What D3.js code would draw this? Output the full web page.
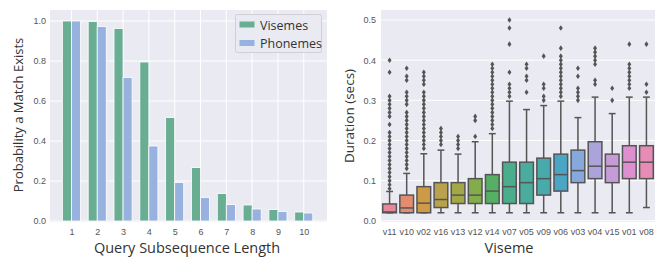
<!DOCTYPE html>
<html>
<head>
<meta charset="utf-8">
<script src="https://cdn.jsdelivr.net/npm/d3@7"></script>
<style>
  body { margin: 0; background: #fff; }
  svg { display: block; font-family: "Open Sans", sans-serif; }
</style>
</head>
<body>
<svg id="main" width="658" height="257"></svg>
<script>
// left panel: probability a match exists
var lengths = [1, 2, 3, 4, 5, 6, 7, 8, 9, 10];
var visemes = [1.0, 0.997, 0.963, 0.795, 0.517, 0.267, 0.137, 0.08, 0.057, 0.045];
var phonemes = [1.0, 0.972, 0.718, 0.375, 0.193, 0.118, 0.082, 0.06, 0.048, 0.04];
var probTicks = [0, 0.2, 0.4, 0.6, 0.8, 1.0];

// right panel: viseme durations
var visemeNames = ["v11", "v10", "v02", "v16", "v13", "v12", "v14", "v07", "v05", "v09", "v06", "v03", "v04", "v15", "v01", "v08"];
var whiskLow = [0.02, 0.02, 0.02, 0.02, 0.02, 0.02, 0.02, 0.02, 0.02, 0.02, 0.02, 0.02, 0.02, 0.02, 0.02, 0.033];
var q1 = [0.02, 0.02, 0.02, 0.033, 0.043, 0.043, 0.043, 0.043, 0.043, 0.064, 0.074, 0.095, 0.105, 0.095, 0.105, 0.105];
var median = [0.022, 0.032, 0.044, 0.053, 0.064, 0.064, 0.074, 0.085, 0.095, 0.105, 0.115, 0.125, 0.136, 0.136, 0.146, 0.146];
var q3 = [0.042, 0.064, 0.085, 0.095, 0.095, 0.105, 0.115, 0.146, 0.146, 0.156, 0.166, 0.176, 0.197, 0.166, 0.187, 0.187];
var whiskHigh = [0.073, 0.118, 0.167, 0.176, 0.166, 0.197, 0.217, 0.298, 0.277, 0.287, 0.298, 0.257, 0.308, 0.267, 0.308, 0.308];
var outliers = [
  [0.08, 0.09, 0.10, 0.11, 0.12, 0.13, 0.14, 0.15, 0.16, 0.17, 0.18, 0.19, 0.20, 0.21, 0.22, 0.24, 0.26, 0.27, 0.28, 0.29, 0.30, 0.31, 0.37, 0.40],
  [0.13, 0.14, 0.15, 0.16, 0.17, 0.18, 0.19, 0.20, 0.21, 0.22, 0.23, 0.24, 0.25, 0.26, 0.27, 0.29, 0.30, 0.31, 0.32, 0.35, 0.36, 0.38],
  [0.18, 0.19, 0.20, 0.21, 0.22, 0.23, 0.24, 0.25, 0.26, 0.27, 0.28, 0.29, 0.30, 0.31, 0.32, 0.34, 0.35, 0.36, 0.37],
  [0.19, 0.20, 0.21, 0.22, 0.23],
  [0.18, 0.19, 0.20, 0.21],
  [0.21, 0.25, 0.26],
  [0.23, 0.24, 0.25, 0.26, 0.27, 0.28, 0.29, 0.30, 0.31, 0.32, 0.33, 0.34, 0.35, 0.36, 0.37, 0.38, 0.39],
  [0.31, 0.32, 0.33, 0.34, 0.37, 0.44, 0.48, 0.50],
  [0.32, 0.35, 0.36, 0.38, 0.39],
  [0.30, 0.31, 0.33, 0.34, 0.41],
  [0.31, 0.32, 0.33, 0.34, 0.35, 0.36, 0.37, 0.38, 0.39, 0.40, 0.41, 0.43, 0.48],
  [0.30, 0.31, 0.32, 0.33, 0.36, 0.38],
  [0.34, 0.35, 0.39, 0.40, 0.41, 0.42, 0.43],
  [0.30, 0.33],
  [0.33, 0.34, 0.35, 0.36, 0.37, 0.38, 0.39, 0.44],
  [0.32, 0.34, 0.44]
];
var durTicks = [0, 0.1, 0.2, 0.3, 0.4, 0.5];

var boxColors = ["#e7889a", "#e48c6f", "#cf9a46", "#b9a24b", "#a3a745", "#82ad4a", "#55b064", "#4aae8c",
                 "#4aac9c", "#48aaab", "#4aa6c4", "#86a8dc", "#aba3da", "#c59bd8", "#de8fcf", "#e78cb6"];

var bg = "#eaeaf2", tickCol = "#555", titleCol = "#333", edge = "#555";
var svg = d3.select("#main");

// ---------- left: grouped bars ----------
var L = { left: 50, right: 327, top: 10, bottom: 222 };
var x1 = d3.scaleLinear().domain([-0.83, 9.9]).range([L.left, L.right]);
var y1 = d3.scaleLinear().domain([-0.005, 1.055]).range([L.bottom, L.top]);
var barW = 0.35;

var g1 = svg.append("g");
g1.append("rect").attr("x", L.left).attr("y", L.top)
  .attr("width", L.right - L.left).attr("height", L.bottom - L.top).attr("fill", bg);

g1.selectAll(".hg").data(probTicks).enter().append("line")
  .attr("x1", L.left).attr("x2", L.right)
  .attr("y1", function(d) { return y1(d); }).attr("y2", function(d) { return y1(d); })
  .attr("stroke", "#fff").attr("stroke-width", 1);
g1.selectAll(".vg").data(lengths).enter().append("line")
  .attr("y1", L.top).attr("y2", L.bottom)
  .attr("x1", function(d, i) { return x1(i); }).attr("x2", function(d, i) { return x1(i); })
  .attr("stroke", "#fff").attr("stroke-width", 1);

g1.selectAll(".vis").data(visemes).enter().append("rect")
  .attr("x", function(d, i) { return x1(i - barW); })
  .attr("width", x1(barW) - x1(0))
  .attr("y", function(d) { return y1(d); })
  .attr("height", function(d) { return y1(0) - y1(d); })
  .attr("fill", "#69ad93").attr("stroke", "#fff").attr("stroke-width", 0.8);
g1.selectAll(".pho").data(phonemes).enter().append("rect")
  .attr("x", function(d, i) { return x1(i); })
  .attr("width", x1(barW) - x1(0))
  .attr("y", function(d) { return y1(d); })
  .attr("height", function(d) { return y1(0) - y1(d); })
  .attr("fill", "#98b2df").attr("stroke", "#fff").attr("stroke-width", 0.8);

var ax1 = g1.append("g").attr("transform", "translate(" + (L.left - 4) + ",0)")
  .call(d3.axisLeft(y1).tickValues(probTicks).tickFormat(d3.format(".1f")).tickSize(0).tickPadding(0));
var bx1 = g1.append("g").attr("transform", "translate(0," + (L.bottom + 3) + ")")
  .call(d3.axisBottom(x1).tickValues(d3.range(lengths.length))
    .tickFormat(function(i) { return lengths[i]; }).tickSize(0).tickPadding(4));
[ax1, bx1].forEach(function(a) {
  a.select(".domain").remove();
  a.selectAll("text").attr("fill", tickCol).style("font-size", "9px");
});

g1.append("text").attr("x", 187).attr("y", 253).attr("text-anchor", "middle")
  .attr("fill", titleCol).style("font-size", "14.5px").text("Query Subsequence Length");
g1.append("text").attr("transform", "translate(23,115) rotate(-90)").attr("text-anchor", "middle")
  .attr("fill", titleCol).style("font-size", "13px").text("Probability a Match Exists");

// legend
var leg = g1.append("g");
leg.append("rect").attr("x", 235.5).attr("y", 14.5).attr("width", 86).attr("height", 38).attr("rx", 2)
  .attr("fill", "#eaeaf2").attr("stroke", "#cfcfd6").attr("stroke-width", 1);
[["Visemes", "#69ad93"], ["Phonemes", "#98b2df"]].forEach(function(it, i) {
  leg.append("rect").attr("x", 239.5).attr("y", 21.5 + i * 18.5).attr("width", 15).attr("height", 6).attr("fill", it[1]);
  leg.append("text").attr("x", 260).attr("y", 29.5 + i * 18.5).attr("fill", titleCol)
    .style("font-size", "12.5px").text(it[0]);
});

// ---------- right: box plots ----------
var R = { left: 381, right: 655, top: 10, bottom: 222 };
var x2 = d3.scaleBand().domain(visemeNames).range([R.left, R.right]).paddingInner(0.2).paddingOuter(0.1);
var y2 = d3.scaleLinear().domain([-0.003, 0.525]).range([R.bottom, R.top]);

var g2 = svg.append("g");
g2.append("rect").attr("x", R.left).attr("y", R.top)
  .attr("width", R.right - R.left).attr("height", R.bottom - R.top).attr("fill", bg);
g2.selectAll(".hg").data(durTicks).enter().append("line")
  .attr("x1", R.left).attr("x2", R.right)
  .attr("y1", function(d) { return y2(d); }).attr("y2", function(d) { return y2(d); })
  .attr("stroke", "#fff").attr("stroke-width", 1);

var boxes = g2.selectAll(".box").data(visemeNames).enter().append("g")
  .attr("transform", function(d) { return "translate(" + x2(d) + ",0)"; });
var bw = x2.bandwidth();

boxes.append("line").attr("x1", bw / 2).attr("x2", bw / 2)
  .attr("y1", function(d, i) { return y2(whiskLow[i]); })
  .attr("y2", function(d, i) { return y2(q1[i]); })
  .attr("stroke", edge).attr("stroke-width", 1.5);
boxes.append("line").attr("x1", bw / 2).attr("x2", bw / 2)
  .attr("y1", function(d, i) { return y2(q3[i]); })
  .attr("y2", function(d, i) { return y2(whiskHigh[i]); })
  .attr("stroke", edge).attr("stroke-width", 1.5);
[whiskLow, whiskHigh].forEach(function(arr) {
  boxes.append("line").attr("x1", bw * 0.25).attr("x2", bw * 0.75)
    .attr("y1", function(d, i) { return y2(arr[i]); })
    .attr("y2", function(d, i) { return y2(arr[i]); })
    .attr("stroke", edge).attr("stroke-width", 1.5);
});
boxes.append("rect").attr("x", 0).attr("width", bw)
  .attr("y", function(d, i) { return y2(q3[i]); })
  .attr("height", function(d, i) { return y2(q1[i]) - y2(q3[i]); })
  .attr("fill", function(d, i) { return boxColors[i]; })
  .attr("stroke", edge).attr("stroke-width", 1.5);
boxes.append("line").attr("x1", 0).attr("x2", bw)
  .attr("y1", function(d, i) { return y2(median[i]); })
  .attr("y2", function(d, i) { return y2(median[i]); })
  .attr("stroke", edge).attr("stroke-width", 1.5);
boxes.each(function(d, i) {
  d3.select(this).selectAll(".fl").data(outliers[i]).enter().append("path")
    .attr("transform", function(v) { return "translate(" + (bw / 2) + "," + y2(v) + ")"; })
    .attr("d", "M0,-2.8L2,0L0,2.8L-2,0Z")
    .attr("fill", edge);
});

var ax2 = g2.append("g").attr("transform", "translate(" + (R.left - 5) + ",0)")
  .call(d3.axisLeft(y2).tickValues(durTicks).tickFormat(d3.format(".1f")).tickSize(0).tickPadding(0));
var bx2 = g2.append("g").attr("transform", "translate(0," + (R.bottom + 3) + ")")
  .call(d3.axisBottom(x2).tickSize(0).tickPadding(4));
[ax2, bx2].forEach(function(a) {
  a.select(".domain").remove();
  a.selectAll("text").attr("fill", tickCol).style("font-size", "9px");
});

g2.append("text").attr("x", 509).attr("y", 253).attr("text-anchor", "middle")
  .attr("fill", titleCol).style("font-size", "14.5px").text("Viseme");
g2.append("text").attr("transform", "translate(354,116) rotate(-90)").attr("text-anchor", "middle")
  .attr("fill", titleCol).style("font-size", "13.5px").text("Duration (secs)");
</script>
</body>
</html>
